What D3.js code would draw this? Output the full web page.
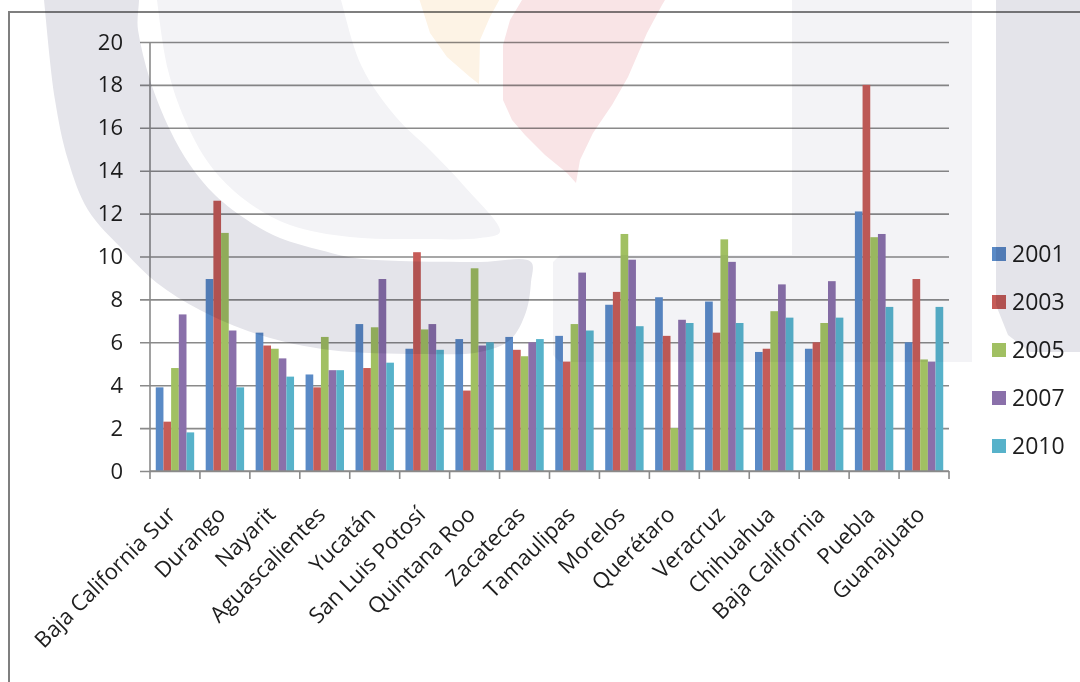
<!DOCTYPE html>
<html>
<head>
<meta charset="utf-8">
<script src="https://cdn.jsdelivr.net/npm/d3@7"></script>
<style>
  body { margin: 0; background: #fff; }
  svg { display: block; font-family: "Open Sans", sans-serif; }
</style>
</head>
<body>
<svg id="chart" width="1080" height="682"></svg>
<script>
const states = ["Baja California Sur", "Durango", "Nayarit", "Aguascalientes", "Yucatán",
  "San Luis Potosí", "Quintana Roo", "Zacatecas", "Tamaulipas", "Morelos", "Querétaro",
  "Veracruz", "Chihuahua", "Baja California", "Puebla", "Guanajuato"];
const years = ["2001", "2003", "2005", "2007", "2010"];
const v2001 = [3.9, 8.95, 6.45, 4.5, 6.85, 5.7, 6.15, 6.25, 6.3, 7.75, 8.1, 7.9, 5.55, 5.7, 12.1, 6.0];
const v2003 = [2.3, 12.6, 5.85, 3.9, 4.8, 10.2, 3.75, 5.65, 5.1, 8.35, 6.3, 6.45, 5.7, 6.0, 18.0, 8.95];
const v2005 = [4.8, 11.1, 5.7, 6.25, 6.7, 6.6, 9.45, 5.35, 6.85, 11.05, 2.0, 10.8, 7.45, 6.9, 10.9, 5.2];
const v2007 = [7.3, 6.55, 5.25, 4.7, 8.95, 6.85, 5.85, 6.0, 9.25, 9.85, 7.05, 9.75, 8.7, 8.85, 11.05, 5.1];
const v2010 = [1.8, 3.9, 4.4, 4.7, 5.05, 5.65, 6.0, 6.15, 6.55, 6.75, 6.9, 6.9, 7.15, 7.15, 7.65, 7.65];
const yTicks = [0, 2, 4, 6, 8, 10, 12, 14, 16, 18, 20];

const series = [v2001, v2003, v2005, v2007, v2010];
const colors = ["#5a8ac6", "#c65c58", "#a1c062", "#8a70aa", "#57b2ca"];

let svg = d3.select("#chart"),
    plotLeft = 150, plotRight = 949, plotTop = 42, plotBottom = 471

let x0 = d3.scaleBand().domain(states).range([plotLeft, plotRight]).padding(0)
let bw = x0.bandwidth(), gap = bw * 1.5 / 6.5
let x1 = d3.scaleBand().domain(years).range([gap / 2, bw - gap / 2])
let y = d3.scaleLinear().domain([0, 20]).range([plotBottom, plotTop])

// chart frame (only top and left edges are inside the picture)
svg.append("path")
  .attr("d", "M9,690 L9,12 L1090,12")
  .attr("fill", "none").attr("stroke", "#7f7f7f").attr("stroke-width", 2)

// gridlines + y labels
let yAxis = svg.append("g")
  .attr("transform", "translate(140,0)")
  .call(d3.axisLeft(y).tickValues(yTicks).tickSize(-(plotRight - 140)).tickPadding(17))
yAxis.select(".domain").remove()
yAxis.selectAll(".tick line").attr("stroke", "#8a8a8a").attr("stroke-width", 1.6)
yAxis.selectAll(".tick text")
  .attr("fill", "#1e1e1e").style("font-size", "22px").style("font-family", "Open Sans")

// bars
let rows = states.map((s, i) => years.map((yr, j) => ({state: s, year: yr, value: series[j][i], k: j})))
svg.append("g").selectAll("g").data(rows).enter().append("g")
  .attr("transform", d => "translate(" + x0(d[0].state) + ",0)")
  .selectAll("rect").data(d => d).enter().append("rect")
  .attr("x", d => x1(d.year))
  .attr("width", x1.bandwidth())
  .attr("y", d => y(d.value))
  .attr("height", d => y(0) - y(d.value))
  .attr("fill", d => colors[d.k])

// axes lines
svg.append("line")
  .attr("x1", plotLeft).attr("x2", plotLeft).attr("y1", plotTop).attr("y2", plotBottom)
  .attr("stroke", "#8a8a8a").attr("stroke-width", 1.6)
svg.append("line")
  .attr("x1", plotLeft).attr("x2", plotRight).attr("y1", plotBottom).attr("y2", plotBottom)
  .attr("stroke", "#8a8a8a").attr("stroke-width", 1.6)
let bounds = states.map(s => x0(s)).concat([plotRight])
svg.append("g").selectAll("line").data(bounds).enter().append("line")
  .attr("x1", d => d).attr("x2", d => d).attr("y1", plotBottom).attr("y2", plotBottom + 8)
  .attr("stroke", "#8a8a8a").attr("stroke-width", 1.6)

// category labels, rotated
svg.append("g").selectAll("text").data(states).enter().append("text")
  .attr("transform", d => "translate(" + (x0(d) + bw / 2 + 2) + ",516) rotate(-45)")
  .attr("text-anchor", "end")
  .attr("fill", "#1e1e1e")
  .style("font-size", "22px")
  .text(d => d)

// legend
let legend = svg.append("g").selectAll("g").data(years).enter().append("g")
  .attr("transform", (d, i) => "translate(992," + (254 + i * 48) + ")")
legend.append("rect")
  .attr("x", 0).attr("y", -7).attr("width", 14).attr("height", 14)
  .attr("fill", (d, i) => colors[i])
legend.append("text")
  .attr("x", 20).attr("dy", "0.36em")
  .attr("fill", "#1e1e1e").style("font-size", "23px")
  .text(d => d)

// faint watermark printed over the page
let wm = svg.append("g").style("mix-blend-mode", "multiply")
let smooth = d3.line().curve(d3.curveCatmullRomClosed)
let sharp = d3.line().curve(d3.curveLinearClosed)
wm.append("path").attr("fill", "#e4e4ea").attr("d", smooth([
  [42, -20], [44, 0], [55, 100], [68, 160], [88, 210], [123, 250], [157, 283], [200, 310],
  [260, 335], [330, 350], [420, 354], [480, 352], [510, 340], [526, 312], [531, 282], [531, 262],
  [480, 262], [400, 261], [355, 258], [320, 250], [280, 238], [250, 222], [215, 195], [190, 165],
  [170, 130], [150, 80], [138, 30], [134, -20]]))
wm.append("path").attr("fill", "#f3f3f6").attr("d", smooth([
  [155, -20], [157, 0], [168, 70], [185, 120], [210, 165], [245, 200], [290, 225], [350, 237],
  [420, 239], [480, 238], [500, 232], [465, 187], [430, 150], [396, 117], [362, 67], [341, 0], [336, -20]]))
wm.append("path").attr("fill", "#f3f3f6").attr("d", sharp([
  [792, -5], [972, -5], [972, 362], [560, 362], [553, 355], [553, 262], [560, 255], [792, 255]]))
wm.append("path").attr("fill", "#e4e4ea").attr("d", sharp([
  [996, -5], [1090, -5], [1090, 352], [1030, 352], [1008, 335], [996, 305]]))
wm.append("path").attr("fill", "#f9e4e6").attr("d", sharp([
  [525, -5], [510, 20], [503, 45], [503, 100], [512, 120], [525, 135], [545, 155], [567, 173],
  [576, 183], [580, 160], [593, 133], [612, 105], [628, 77], [647, 33], [662, 5], [668, -5]]))
wm.append("path").attr("fill", "#fdf3e5").attr("d", sharp([
  [418, -5], [430, 33], [447, 57], [470, 77], [479, 84], [480, 40], [490, 17], [502, -5]]))
</script>
</body>
</html>
